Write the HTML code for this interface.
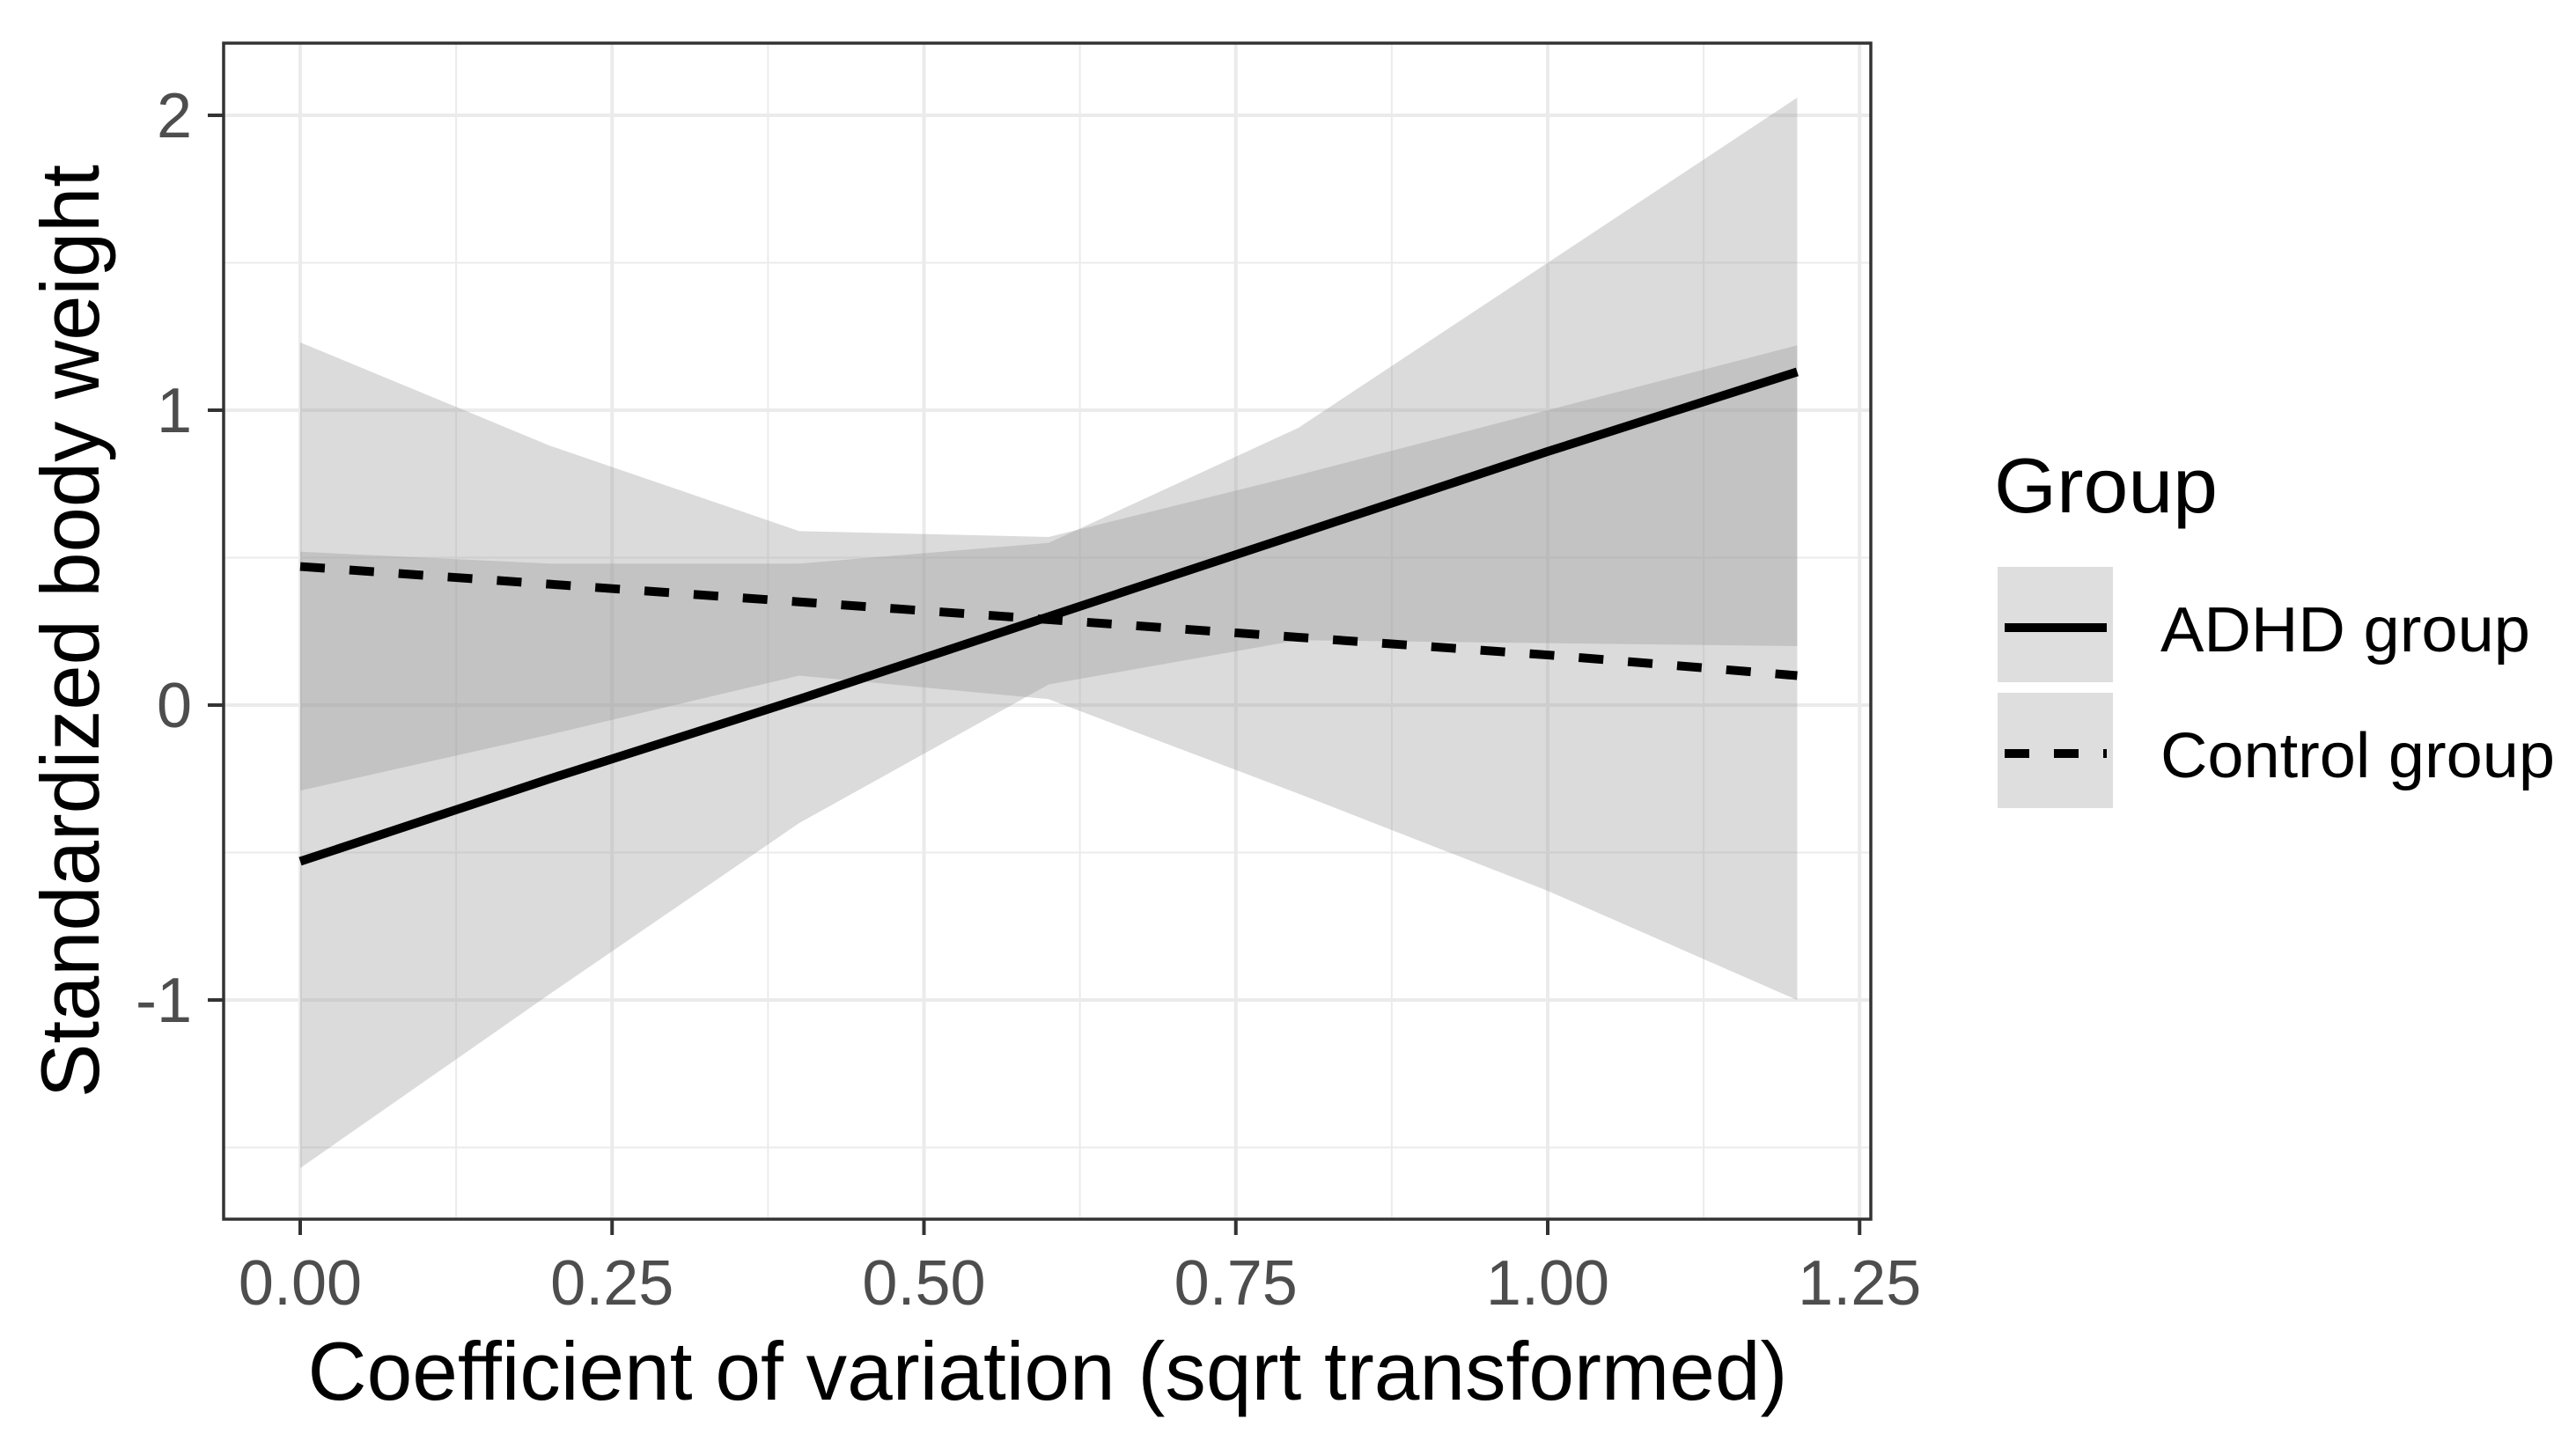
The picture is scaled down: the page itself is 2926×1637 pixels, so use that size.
<!DOCTYPE html>
<html><head><meta charset="utf-8"><style>
html,body{margin:0;padding:0;background:#fff;}
svg{display:block;font-family:"Liberation Sans",Arial,sans-serif;}
</style></head><body>
<svg id="chart" width="2926" height="1637" viewBox="0 0 2926 1637">
<rect x="0" y="0" width="2926" height="1637" fill="#fff"/>
<g id="grid"></g>
<g id="ribbons"></g>
<g id="lines"></g>
<rect x="254" y="49" width="1871" height="1336" fill="none" stroke="#333" stroke-width="3.5"/>
<g id="axes"></g>
<text x="1190" y="1590" font-size="94" text-anchor="middle" textLength="1681" lengthAdjust="spacingAndGlyphs" fill="#000">Coefficient of variation (sqrt transformed)</text>
<text transform="translate(112,717) rotate(-90)" font-size="94" text-anchor="middle" textLength="1060" lengthAdjust="spacingAndGlyphs" fill="#000">Standardized body weight</text>
<g>
<text x="2265" y="582" font-size="88" textLength="254" lengthAdjust="spacingAndGlyphs" fill="#000">Group</text>
<rect x="2269" y="644" width="131" height="131" fill="#dedede"/>
<line x1="2277" y1="713" x2="2393" y2="713" stroke="#000" stroke-width="10"/>
<text x="2454" y="740" font-size="72" textLength="420" lengthAdjust="spacingAndGlyphs" fill="#000">ADHD group</text>
<rect x="2269" y="787" width="131" height="131" fill="#dedede"/>
<line x1="2277" y1="856" x2="2393" y2="856" stroke="#000" stroke-width="10" stroke-dasharray="28,28"/>
<text x="2454" y="883" font-size="72" textLength="448" lengthAdjust="spacingAndGlyphs" fill="#000">Control group</text>
</g>
</svg>
<script>
const xs = [0, 0.2, 0.4, 0.6, 0.8, 1.0, 1.2];
const adhdFit = [-0.53, -0.25, 0.02, 0.30, 0.58, 0.86, 1.13];
const adhdUpper = [0.52, 0.48, 0.48, 0.55, 0.94, 1.5, 2.06];
const adhdLower = [-1.57, -0.98, -0.40, 0.07, 0.22, 0.21, 0.2];
const controlFit = [0.47, 0.41, 0.35, 0.29, 0.23, 0.17, 0.10];
const controlUpper = [1.23, 0.88, 0.59, 0.57, 0.78, 1.0, 1.22];
const controlLower = [-0.29, -0.10, 0.10, 0.02, -0.30, -0.63, -1.0];
const xTicks = [0, 0.25, 0.5, 0.75, 1.0, 1.25];
const xTickLabels = ["0.00", "0.25", "0.50", "0.75", "1.00", "1.25"];
const yTicks = [-1, 0, 1, 2];
const yTickLabels = ["-1", "0", "1", "2"];

const NS = "http://www.w3.org/2000/svg";
function sx(v){ return 341 + v * 1417; }
function sy(v){ return 801 - v * 335; }
function mk(tag, attrs, parent){
  const e = document.createElementNS(NS, tag);
  for (const k in attrs) e.setAttribute(k, attrs[k]);
  parent.appendChild(e); return e;
}
const grid = document.getElementById("grid");
const ribbons = document.getElementById("ribbons");
const lines = document.getElementById("lines");
const axes = document.getElementById("axes");

for (let v = -1.5; v <= 2.0001; v += 0.5) {
  const major = Math.abs(v - Math.round(v)) < 1e-6;
  const l = mk("line", {x1:254, x2:2125, y1:sy(v), y2:sy(v), stroke:"#ebebeb", "stroke-width": major ? 4 : 2}, grid);
  
  
}
for (let v = 0; v <= 1.2501; v += 0.125) {
  const major = Math.abs(v / 0.25 - Math.round(v / 0.25)) < 1e-6;
  const l = mk("line", {x1:sx(v), x2:sx(v), y1:49, y2:1385, stroke:"#ebebeb", "stroke-width": major ? 4 : 2}, grid);
  
  
}

function ribbon(up, lo, name){
  let d = "";
  xs.forEach((x, i) => { d += (i ? "L" : "M") + sx(x) + "," + sy(up[i]); });
  for (let i = xs.length - 1; i >= 0; i--) d += "L" + sx(xs[i]) + "," + sy(lo[i]);
  const p = mk("path", {d: d + "Z", fill:"#999999", "fill-opacity":0.35}, ribbons);
  
  
}
ribbon(adhdUpper, adhdLower, 'ribbon-adhd');
ribbon(controlUpper, controlLower, 'ribbon-control');

function line(vals, dash, name){
  const pts = xs.map((x, i) => sx(x) + "," + sy(vals[i])).join(" ");
  const a = {points: pts, fill:"none", stroke:"#000", "stroke-width":10};
  if (dash) a["stroke-dasharray"] = "28,28";
  const p = mk("polyline", a, lines);
  
  
}
line(adhdFit, false, 'line-adhd');
line(controlFit, true, 'line-control');

xTicks.forEach((v, i) => {
  const t = mk("line", {x1:sx(v), x2:sx(v), y1:1385, y2:1403, stroke:"#333", "stroke-width":4}, axes);
  
  
  const l = mk("text", {x:sx(v), y:1482, "font-size":72, "text-anchor":"middle", fill:"#4d4d4d"}, axes);
  l.textContent = xTickLabels[i];
  
  
});
yTicks.forEach((v, i) => {
  const t = mk("line", {x1:236, x2:254, y1:sy(v), y2:sy(v), stroke:"#333", "stroke-width":4}, axes);
  
  
  const l = mk("text", {x:218, y:sy(v) + 25, "font-size":72, "text-anchor":"end", fill:"#4d4d4d"}, axes);
  l.textContent = yTickLabels[i];
  
  
});
</script>
</body></html>
